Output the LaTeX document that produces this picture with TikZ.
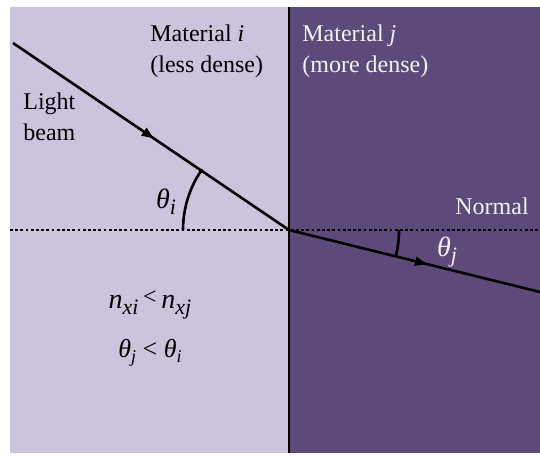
\documentclass[tikz,border=0pt]{standalone}
\usepackage{fontspec}
\setmainfont{Liberation Serif}
\usetikzlibrary{positioning, arrows.meta, calc, decorations.markings}
\definecolor{mat-light}{HTML}{CCC3DC}
\definecolor{mat-dark}{HTML}{5E4A7A}
\definecolor{mat-text}{HTML}{F2F2F2}
\newcommand{\lowsub}[1]{\raisebox{-0.45ex}{\fontsize{11}{12}\selectfont\textit{#1}}}

\begin{document}
\begin{tikzpicture}[
    x=0.5pt, y=-0.5pt,
    label/.style={font=\fontsize{12}{15.5}\selectfont, inner sep=0pt, align=left},
    ray/.style={draw, line width=1.3pt},
    midarrow/.style={postaction={decorate}, decoration={markings,
        mark=at position #1 with {\arrow{Triangle[length=6pt, width=4.5pt]}}}},
    anglearc/.style={draw, line width=1.3pt},
]
    \useasboundingbox (0, 0) rectangle (540, 455);

    % Materials
    \fill[mat-light] (10, 7) rectangle (289, 453);
    \fill[mat-dark] (289, 7) rectangle (540, 453);
    \coordinate (top) at (289, 7);
    \coordinate (bottom) at (289, 453);
    \draw[line width=1.4pt] (top) -- (bottom);

    \node[label, anchor=north west] (mati) at (150, 24) {Material \textit{i}\\(less dense)};
    \node[label, anchor=north west, text=mat-text] (matj) at (302, 24) {Material \textit{j}\\(more dense)};

    % Normal
    \coordinate (nleft) at (10, 230);
    \coordinate (nright) at (540, 230);
    \draw[line width=1.4pt, dash pattern=on 1.4pt off 1.2pt] (nleft) -- (nright);
    \node[label, anchor=north west, text=mat-text] (normal) at (455, 197) {Normal};

    % Rays
    \coordinate (src) at (13, 43);
    \coordinate (hit) at (289, 230);
    \coordinate (exit) at (540, 292);
    \draw[ray, midarrow=0.51] (src) -- (hit);
    \draw[ray, midarrow=0.55] (hit) -- (exit);
    \node[label, anchor=north west] (beam) at (23, 92) {Light\\beam};

    % Angles
    \draw[anglearc] ($(hit) + (-106, 0)$) arc[start angle=180, end angle=215, radius=106];
    \draw[anglearc] ($(hit) + (110, 0)$) arc[start angle=0, end angle=14, radius=110];
    \node[label, font=\fontsize{14}{16}\selectfont] (thi) at (166, 202) {\textit{θ}\lowsub{i}};
    \node[label, font=\fontsize{14}{16}\selectfont, text=mat-text] (thj) at (447, 252) {\textit{θ}\lowsub{j}};

    % Relations
    \node[label, font=\fontsize{14}{16}\selectfont] (nrel) at (150, 305)
        {\textit{n}\lowsub{xi}\,\raisebox{0.35ex}{\fontsize{12}{12}\selectfont<}\,\textit{n}\lowsub{xj}};
    \node[label, font=\fontsize{13}{16}\selectfont] (threl) at (150, 353)
        {\textit{θ}\raisebox{-0.4ex}{\fontsize{9}{10}\selectfont\textit{j}} < \textit{θ}\raisebox{-0.4ex}{\fontsize{9}{10}\selectfont\textit{i}}};
\end{tikzpicture}
\end{document}
